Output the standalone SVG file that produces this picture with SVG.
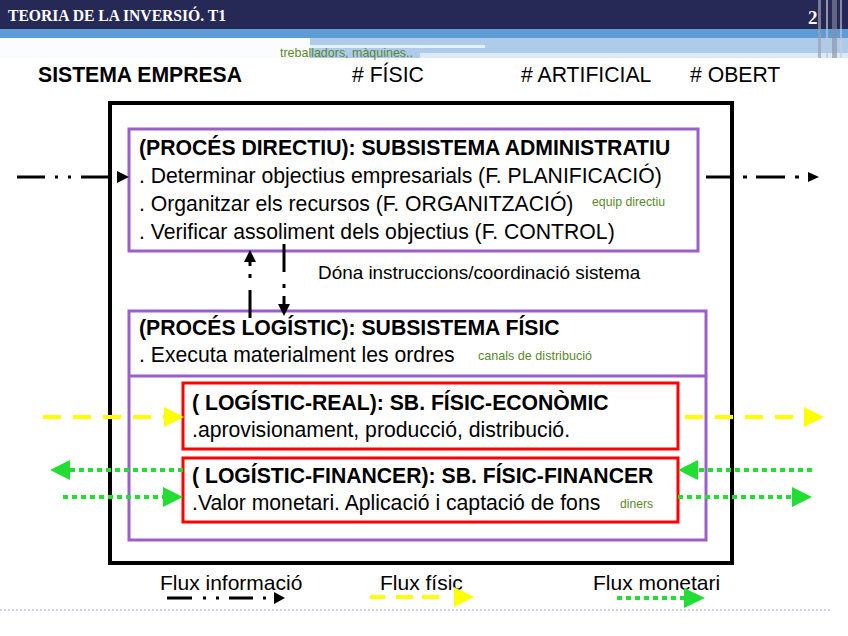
<svg xmlns="http://www.w3.org/2000/svg" width="848" height="636" viewBox="0 0 848 636">
<defs>
<style>
.t{font-family:"Liberation Sans",Arial,sans-serif;fill:#000}
.b{font-weight:bold}
.m{font-size:21.2px}
.g{font-family:"Liberation Sans",Arial,sans-serif;fill:#5a8a2a;font-size:13px}
.pur{fill:none;stroke:#9a5fc9;stroke-width:3}
.red{fill:none;stroke:#ff0000;stroke-width:3}
.info{fill:none;stroke:#000;stroke-width:3;stroke-dasharray:28 10 3 10 3 10}
.phys{fill:none;stroke:#ffff00;stroke-width:4;stroke-dasharray:18 12}
.mon{fill:none;stroke:#22dd33;stroke-width:4;stroke-dasharray:5 4}
</style>
</defs>
<rect width="848" height="636" fill="#fff"/>
<g id="header">
<rect x="0" y="0" width="848" height="29" fill="#262956"/>
<rect x="0" y="29" width="848" height="9" fill="#5e9dd4"/>
<rect x="310" y="38" width="538" height="20" fill="#aecbea"/>
<rect x="310" y="45" width="175" height="3" fill="#e6f0fa"/>
<rect x="420" y="53" width="428" height="5" fill="#dde9f6"/>
<rect x="0" y="38" width="310" height="20" fill="#fafcfe"/>
<rect x="818" y="0" width="3" height="58" fill="#9aa0b0" opacity="0.7"/>
<rect x="826" y="0" width="2" height="58" fill="#c0c4d0" opacity="0.7"/>
<rect x="832" y="0" width="5" height="58" fill="#8a90a0" opacity="0.6"/>
<rect x="840" y="0" width="2" height="58" fill="#c8ccd8" opacity="0.6"/>
<text x="8" y="21" font-family="Liberation Serif,serif" font-size="16" font-weight="bold" fill="#fff" textLength="218" lengthAdjust="spacingAndGlyphs">TEORIA DE LA INVERSIÓ. T1</text>
<text x="808" y="24" font-family="Liberation Serif,serif" font-size="19" font-weight="bold" fill="#fff">2</text>
</g>
<g id="labels">
<text class="g" x="280" y="57" textLength="133" lengthAdjust="spacingAndGlyphs">treballadors, màquines..</text>
<text class="t b m" x="38" y="82">SISTEMA EMPRESA</text>
<text class="t m" x="352" y="82"># FÍSIC</text>
<text class="t m" x="521" y="82"># ARTIFICIAL</text>
<text class="t m" x="690" y="82"># OBERT</text>
</g>
<g id="sistema">
<rect x="110" y="103" width="622" height="460" fill="none" stroke="#000" stroke-width="4"/>
</g>
<g id="directiu">
<rect class="pur" x="129" y="129" width="569" height="122"/>
<text class="t b m" x="139" y="155">(PROCÉS DIRECTIU): SUBSISTEMA ADMINISTRATIU</text>
<text class="t m" x="139" y="183">. Determinar objectius empresarials (F. PLANIFICACIÓ)</text>
<text class="t m" x="139" y="211">. Organitzar els recursos (F. ORGANITZACIÓ)</text>
<text class="t m" x="139" y="239">. Verificar assoliment dels objectius (F. CONTROL)</text>
<text class="g" x="592" y="206" textLength="73" lengthAdjust="spacingAndGlyphs">equip directiu</text>
</g>
<g id="fisic">
<rect class="pur" x="129" y="311" width="577" height="229"/>
<line x1="129" y1="376" x2="706" y2="376" stroke="#9a5fc9" stroke-width="3"/>
<text class="t b m" x="139" y="335">(PROCÉS LOGÍSTIC): SUBSISTEMA FÍSIC</text>
<text class="t m" x="139" y="362">. Executa materialment les ordres</text>
<text class="g" x="478" y="360" textLength="114" lengthAdjust="spacingAndGlyphs">canals de distribució</text>
</g>
<g id="economic">
<rect class="red" x="183" y="383" width="495" height="66"/>
<text class="t b m" x="192" y="410">( LOGÍSTIC-REAL): SB. FÍSIC-ECONÒMIC</text>
<text class="t m" x="192" y="437">.aprovisionament, producció, distribució.</text>
</g>
<g id="financer">
<rect class="red" x="183" y="458" width="495" height="64"/>
<text class="t b m" x="192" y="483">( LOGÍSTIC-FINANCER): SB. FÍSIC-FINANCER</text>
<text class="t m" x="192" y="510">.Valor monetari. Aplicació i captació de fons</text>
<text class="g" x="620" y="508" textLength="33" lengthAdjust="spacingAndGlyphs">diners</text>
</g>
<g id="connectors">
<path class="info" d="M17 177 H117"/>
<path d="M117 171 L129 177 L117 183 Z" fill="#000"/>
<path d="M706 177 H732" stroke="#000" stroke-width="3"/>
<path d="M743 177 h4 M756 177 h29 M795 177 h4" stroke="#000" stroke-width="3"/>
<path d="M808 172 L819 177 L808 182 Z" fill="#000"/>
<path d="M250 318 V290 M250 278 V274 M250 266 V262" stroke="#000" stroke-width="3" fill="none"/>
<path d="M244 262 L250 250 L256 262 Z" fill="#000"/>
<path d="M284 244 V272 M284 284 V288 M284 296 V304" stroke="#000" stroke-width="3" fill="none"/>
<path d="M278 304 L284 316 L290 304 Z" fill="#000"/>
<text class="t" x="318" y="279" font-size="18.9">Dóna instruccions/coordinació sistema</text>
<path class="phys" d="M43 417 H165"/>
<path d="M164 407 L184 417 L164 427 Z" fill="#ffff00"/>
<path class="phys" d="M685 417 H805"/>
<path d="M804 407 L824 417 L804 427 Z" fill="#ffff00"/>
<path class="mon" d="M183 470 H70"/>
<path d="M70 460 L50 470 L70 480 Z" fill="#22dd33"/>
<path class="mon" d="M63 497 H165"/>
<path d="M163 487 L183 497 L163 507 Z" fill="#22dd33"/>
<path class="mon" d="M812 470 H698"/>
<path d="M698 460 L678 470 L698 480 Z" fill="#22dd33"/>
<path class="mon" d="M678 497 H792"/>
<path d="M792 487 L812 497 L792 507 Z" fill="#22dd33"/>
</g>
<g id="legend">
<text class="t" x="160" y="590" font-size="21">Flux informació</text>
<text class="t" x="380" y="590" font-size="21">Flux físic</text>
<text class="t" x="593" y="590" font-size="21">Flux monetari</text>
<path d="M167 598 h25 M203 598 h3 M216 598 h3 M229 598 h24 M263 598 h3" stroke="#000" stroke-width="3" fill="none"/>
<path d="M274 592 L285 598 L274 604 Z" fill="#000"/>
<path d="M370 597 h15 M396 597 h17 M422 597 h17" stroke="#ffff00" stroke-width="4" fill="none"/>
<path d="M454 587 L474 597 L454 607 Z" fill="#ffff00"/>
<path class="mon" d="M617 598 H684"/>
<path d="M684 588 L705 598 L684 608 Z" fill="#22dd33"/>
</g>
<line x1="0" y1="610" x2="830" y2="610" stroke="#8ea8d8" stroke-width="1" stroke-dasharray="2 2"/>
</svg>
